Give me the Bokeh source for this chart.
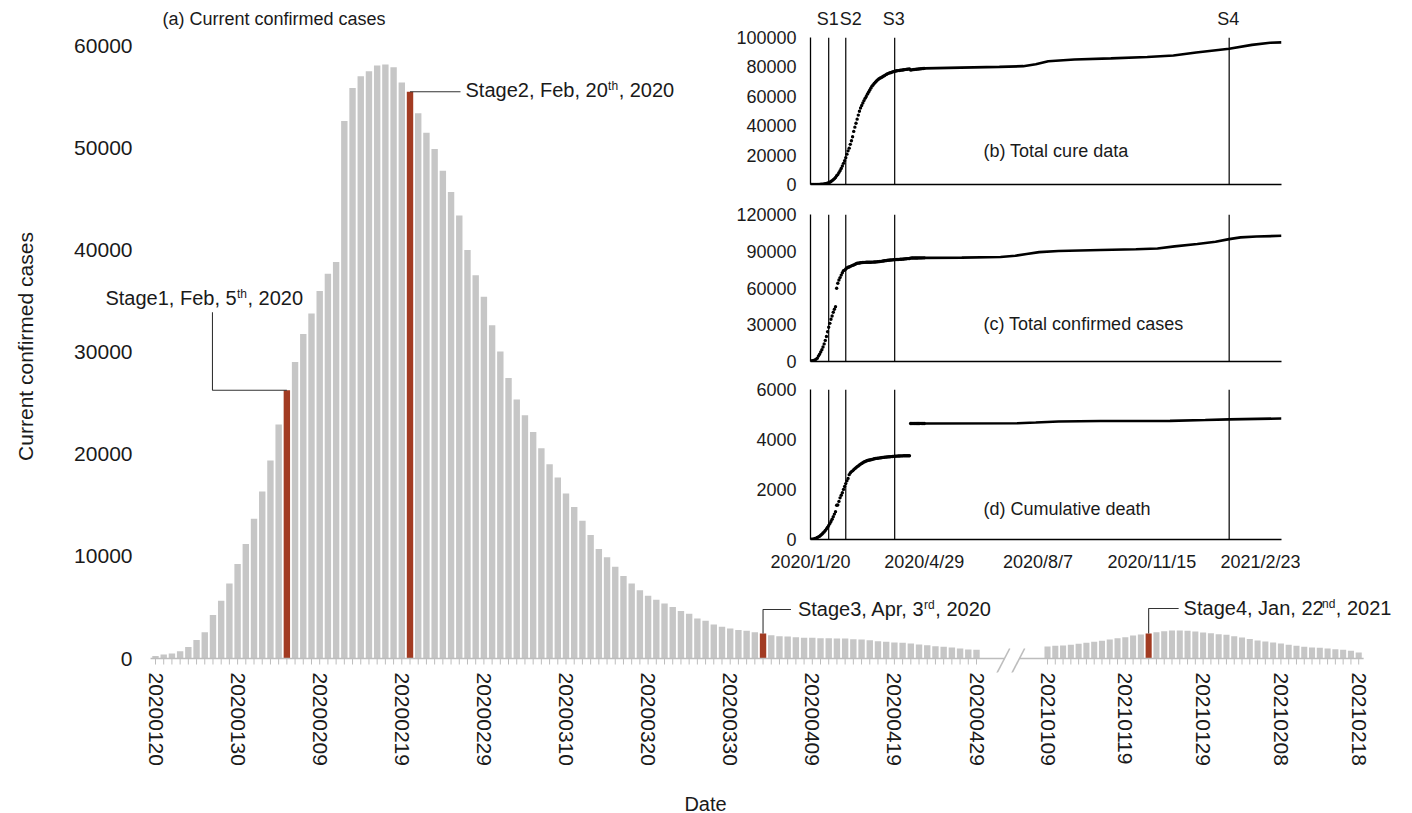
import math
import numpy as np
import pandas as pd
from bokeh.plotting import figure
from bokeh.models import (FixedTicker, Label, Range1d, Span, ColumnDataSource,
                          BasicTickFormatter)
from bokeh.embed import file_html
from bokeh.resources import INLINE

# ------------------------------------------------------------------ data
# (a) current confirmed cases, 2020-01-20 .. 2020-04-29
seg1_values = [250, 380, 480, 720, 1130, 1800, 2560, 4260, 5660, 7340,
               9240, 11200, 13680, 16340, 19390, 22900, 26250, 29020, 31760, 33780,
               35980, 37660, 38800, 52610, 55850, 56990, 57490, 58050, 58130, 57870,
               56380, 55470, 53380, 51470, 49870, 47750, 45650, 43370, 39980, 37520,
               35410, 32630, 30050, 27460, 25360, 23800, 22170, 20570, 19010, 17710,
               16150, 14820, 13490, 12080, 10710, 9900, 8990, 8070, 7330, 6670,
               6150, 5740, 5390, 5050, 4660, 4370, 3910, 3690, 3330, 3100,
               2940, 2800, 2710, 2580, 2450, 2280, 2190, 2150, 2090, 2020,
               2020, 1990, 1990, 1960, 1960, 1890, 1860, 1790, 1700, 1630,
               1570, 1530, 1470, 1370, 1300, 1210, 1140, 1080, 980, 880, 850]
# (a) current confirmed cases, 2021-01-09 .. 2021-02-18
seg2_values = [1170, 1240, 1270, 1340, 1440, 1530, 1630, 1730, 1860, 1990,
               2090, 2250, 2350, 2450, 2580, 2670, 2740, 2740, 2710, 2640,
               2540, 2480, 2380, 2320, 2190, 2050, 1920, 1760, 1660, 1570,
               1470, 1340, 1240, 1140, 1080, 1040, 980, 910, 850, 750, 590]
seg1_tick_labels = ["20200120", "20200130", "20200209", "20200219", "20200229", "20200310",
                    "20200320", "20200330", "20200409", "20200419", "20200429"]
seg2_tick_labels = ["20210109", "20210119", "20210129", "20210208", "20210218"]
y_ticks_main = [0, 10000, 20000, 30000, 40000, 50000, 60000]
stage_seg1_idx = [16, 31, 74]   # Feb 5, Feb 20, Apr 3 2020
stage_seg2_idx = [13]           # Jan 22 2021

# insets: daily values 2020-01-20 .. 2020-04-29
cure_early = [25, 28, 28, 34, 38, 49, 51, 60, 103, 124, 171, 243,
              328, 475, 632, 892, 1153, 1540, 2050, 2649, 3281, 3996, 4740, 5911, 6723, 8096,
              9419, 10844, 12552, 14376, 16155, 18264, 20659, 22888, 24734, 27323, 29745, 32495,
              36117, 39002, 41625,
              44462, 47204, 49856, 52045, 53726, 55404, 57065, 58600, 59897, 61475, 62793, 64111,
              65541, 66911, 67749, 68679, 69601, 70420, 71150, 71740, 72244, 72703, 73159, 73650,
              74051, 74588, 74971, 75448, 75770, 76052, 76238,
              76610, 76800, 77000, 77180, 77350, 77480, 77600, 77710, 77820, 77930, 78040, 78160,
              78280, 78400, 78520, 78640, 77900, 78010, 78120, 78220, 78320, 78410, 78500, 78590,
              78680, 78770, 78850, 78930, 79000]
confirmed_early = [291, 440, 571, 830, 1287, 1975, 2744, 4515, 5974, 7711, 9692, 11791,
                   14380, 17205, 20438, 24324, 28018, 31161, 34546, 37198, 40171, 42638, 44653,
                   59804, 63851, 66492, 68500, 70548, 72436, 74185, 74576, 75465, 76288, 76936,
                   77150, 77658, 78064, 78497, 78824, 79251, 79824,
                   80170, 80300, 80420, 80570, 80720, 80830, 80880, 80930, 80960, 80990, 81020,
                   81050, 81080, 81120, 81160, 81210, 81260, 81330, 81420, 81520, 81640, 81760,
                   81920, 82050, 82190, 82330, 82480, 82600, 82700, 82810, 82900,
                   82990, 83070, 83130, 83190, 83250, 83300, 83360, 83420, 83490, 83560, 83640,
                   83760, 83890, 83950, 84010, 84060, 84400, 84430, 84460, 84480, 84500, 84520,
                   84540, 84560, 84570, 84580, 84590, 84600, 84610]
death_early = [6, 9, 17, 25, 41, 56, 80, 106, 132, 170, 213, 259,
               304, 361, 425, 491, 564, 637, 723, 812, 909, 1017, 1114, 1368, 1381, 1524, 1666,
               1771, 1869, 2005, 2119, 2237, 2346, 2444, 2594, 2665, 2717, 2746, 2790, 2837, 2872,
               2914, 2945, 2983, 3014, 3044, 3072, 3099, 3121, 3138, 3160, 3171, 3178, 3191, 3201,
               3215, 3228, 3239, 3247, 3250, 3257, 3264, 3273, 3281, 3285, 3292, 3297, 3300, 3305,
               3309, 3310, 3317,
               3323, 3327, 3331, 3335, 3337, 3339, 3342, 3344, 3345, 3346, 3348, 3349, 3350, 3352,
               3352, 3352, 4642, 4642, 4642, 4642, 4642, 4642, 4642, 4643, 4643, 4643, 4643, 4643,
               4643]
early_start = "2020-01-20"

# insets: later values (sampled dates)
cure_late_dates = ["2020-04-29", "2020-05-31", "2020-07-04", "2020-07-25", "2020-08-05",
                   "2020-08-16", "2020-09-08", "2020-10-10", "2020-11-11", "2020-12-04",
                   "2020-12-24", "2021-01-22", "2021-02-11", "2021-02-27", "2021-03-09"]
cure_late = [79000, 79500, 80000, 80500, 81800, 83800, 85000, 85800, 86700, 87800,
             89800, 92300, 95000, 96400, 96700]
confirmed_late_dates = ["2020-04-29", "2020-06-01", "2020-07-05", "2020-07-18", "2020-07-28",
                        "2020-08-08", "2020-08-25", "2020-10-01", "2020-11-01", "2020-11-20",
                        "2020-12-05", "2020-12-25", "2021-01-10", "2021-01-22", "2021-02-01",
                        "2021-02-15", "2021-03-09"]
confirmed_late = [84610, 84800, 85300, 86300, 87800, 89300, 90200, 91000, 91600, 92300,
                  94000, 95900, 97700, 99900, 101300, 102000, 102600]
death_late_dates = ["2020-04-29", "2020-07-20", "2020-08-05", "2020-08-25", "2020-10-01",
                    "2020-12-01", "2021-01-01", "2021-01-22", "2021-03-09"]
death_late = [4643, 4650, 4680, 4720, 4740, 4745, 4780, 4805, 4840]

inset_tick_labels = ["2020/1/20", "2020/4/29", "2020/8/7", "2020/11/15", "2021/2/23"]
stage_dates = ["2020-02-05", "2020-02-20", "2020-04-03", "2021-01-22"]
stage_names = ["S1", "S2", "S3", "S4"]
inset_end = "2021-03-09"

# ------------------------------------------------------------------ style / layout
FONT = "Liberation Sans"
TXT = "#1a1a1a"
GRAY = "#c6c6c6"
RED = "#a23b22"
AXGRAY = "#bdbdbd"
SEG2_START = 108.65
SEG2_STEP = 0.9476
BAR_W = 0.78
PX_PER_DAY = 8.21
PX_PER_CASE = 613 / 60000.0

AW = {' ': .278, ',': .278, '.': .278, '/': .278, '(': .333, ')': .333, 'S': .667, 'F': .611,
      'A': .667, 'J': .5, 't': .278, 'r': .333, 'l': .222, 'i': .222, 'c': .5, 's': .5, 'h': .556}


def tw(s, size):
    return sum(AW.get(ch, .556) for ch in s) * size


def abs_pos(left, top):
    return {"position": "absolute", "left": f"{left}px", "top": f"{top}px"}


def bare(f):
    f.background_fill_color = None
    f.border_fill_color = None
    f.outline_line_color = None
    f.xgrid.grid_line_color = None
    f.ygrid.grid_line_color = None


# ------------------------------------------------------------------ main figure
x1 = [float(i) for i in range(len(seg1_values))]
x2 = [round(SEG2_START + SEG2_STEP * j, 4) for j in range(len(seg2_values))]
colors = [GRAY] * (len(x1) + len(x2))
for i in stage_seg1_idx:
    colors[i] = RED
for j in stage_seg2_idx:
    colors[len(x1) + j] = RED
src = ColumnDataSource(dict(x=x1 + x2, top=seg1_values + seg2_values,
                            w=[BAR_W] * len(x1) + [BAR_W * SEG2_STEP] * len(x2), c=colors))

# frame: x 10..1400 px, y 5..672 px (baseline at 658)
p = figure(width=1412, height=813, output_backend="svg", toolbar_location=None,
           x_range=Range1d(-145 / PX_PER_DAY, 1245 / PX_PER_DAY),
           y_range=Range1d(-14 / PX_PER_CASE, 653 / PX_PER_CASE),
           min_border_left=10, min_border_right=12, min_border_top=5, min_border_bottom=141,
           styles=abs_pos(0, 0))
bare(p)
p.vbar(x='x', top='top', width='w', bottom=0, fill_color='c', line_color=None, source=src)

yax = p.yaxis[0]
yax.ticker = FixedTicker(ticks=y_ticks_main)
yax.formatter = BasicTickFormatter(use_scientific=False)
yax.axis_line_color = None
yax.major_tick_out = 0
yax.major_tick_in = 0
yax.minor_tick_out = 0
yax.minor_tick_in = 0
yax.major_label_standoff = -122
yax.major_label_text_font = FONT
yax.major_label_text_font_size = "21px"
yax.major_label_text_color = TXT

major_pos = [x1[k] for k in range(0, len(x1), 10)] + [x2[k] for k in range(0, len(x2), 10)]
xax = p.xaxis[0]
xax.ticker = FixedTicker(ticks=major_pos)
xax.major_label_overrides = {pos: lab for pos, lab in zip(major_pos, seg1_tick_labels + seg2_tick_labels)}
xax.major_label_orientation = "vertical"
xax.axis_line_color = None
xax.major_tick_out = 0
xax.major_tick_in = 0
xax.minor_tick_out = 0
xax.minor_tick_in = 0
xax.major_label_standoff = 0
xax.major_label_text_font = FONT
xax.major_label_text_font_size = "21px"
xax.major_label_text_color = TXT

# baseline with break, small ticks under every bar
c = (x1[-1] + x2[0]) / 2.0
allx = x1 + x2
p.segment(x0=[allx[0] - 0.6, c + 0.91], y0=[0, 0], x1=[c - 0.91, allx[-1] + 0.6], y1=[0, 0],
          line_color=AXGRAY, line_width=1.5)
tick_len = 6 / PX_PER_CASE
p.segment(x0=allx, y0=[0] * len(allx), x1=allx, y1=[-tick_len] * len(allx),
          line_color=AXGRAY, line_width=1)
brk_x = [c - 0.91, c + 0.91]
p.segment(x0=[b - 0.95 for b in brk_x], y0=[-15 / PX_PER_CASE] * 2,
          x1=[b + 0.63 for b in brk_x], y1=[10 / PX_PER_CASE] * 2,
          line_color=AXGRAY, line_width=1.6)

# texts
p.add_layout(Label(x=7 / PX_PER_DAY, y=640 / PX_PER_CASE, text="(a) Current confirmed cases",
                   text_font=FONT, text_font_size="18px", text_color=TXT,
                   text_align="left", text_baseline="middle"))
p.add_layout(Label(x=-130 / PX_PER_DAY, y=312 / PX_PER_CASE, text="Current confirmed cases",
                   angle=math.pi / 2, text_font=FONT, text_font_size="21px", text_color=TXT,
                   text_align="center", text_baseline="middle"))


def stage_text(x, y, dx, dy, pre, sup, post, adj=0.0):
    common = dict(x=x, y=y, text_font=FONT, text_color=TXT, text_baseline="middle",
                  text_align="left")
    p.add_layout(Label(text=pre, x_offset=dx, y_offset=dy, text_font_size="20px", **common))
    w1 = tw(pre, 20) + adj
    p.add_layout(Label(text=sup, x_offset=dx + w1 + 0.3, y_offset=dy + 4, text_font_size="12px", **common))
    w2 = tw(sup, 12)
    p.add_layout(Label(text=post, x_offset=dx + w1 + w2 + 0.8, y_offset=dy, text_font_size="20px", **common))


LEAD = dict(line_color="#333333", line_width=1.1)
# Stage1
xs, v = x1[stage_seg1_idx[0]], seg1_values[stage_seg1_idx[0]]
ex, ty = xs - 9.06, v + 78 / PX_PER_CASE
p.line([xs, ex, ex], [v, v, ty], **LEAD)
stage_text(ex, ty, -107, 14, "Stage1, Feb, 5", "th", ", 2020")
# Stage2
xs, v = x1[stage_seg1_idx[1]], seg1_values[stage_seg1_idx[1]]
ex = xs + 6.15
p.line([xs, ex], [v, v], **LEAD)
stage_text(ex, v, 5, 2, "Stage2, Feb, 20", "th", ", 2020")
# Stage3
xs, v = x1[stage_seg1_idx[2]], seg1_values[stage_seg1_idx[2]]
ty, ex = v + 24 / PX_PER_CASE, xs + 3.4
p.line([xs, xs, ex], [v, ty, ty], **LEAD)
stage_text(ex, ty, 7, 0, "Stage3, Apr, 3", "rd", ", 2020", adj=-2.0)
# Stage4
xs, v = x2[stage_seg2_idx[0]], seg2_values[stage_seg2_idx[0]]
ty, ex = v + 25 / PX_PER_CASE, xs + 3.65
p.line([xs, xs, ex], [v, ty, ty], **LEAD)
stage_text(ex, ty, 5, 0, "Stage4, Jan, 22", "nd", ", 2021", adj=-2.0)

# x-axis title in its own small strip (centred at x=705, y=803)
fdate = figure(width=120, height=30, output_backend="svg", toolbar_location=None,
               x_range=Range1d(0, 1), y_range=Range1d(0, 1), x_axis_location=None,
               y_axis_location=None, min_border_left=0, min_border_right=0, min_border_top=0,
               min_border_bottom=0, styles=abs_pos(645, 788))
bare(fdate)
fdate.add_layout(Label(x=0.5, y=0.5, text="Date", text_font=FONT, text_font_size="20px",
                       text_color=TXT, text_align="center", text_baseline="middle"))

# ------------------------------------------------------------------ insets
base = pd.Timestamp(early_start)


def days(ds):
    return [(pd.Timestamp(d) - base).days for d in ds]


early_x = list(range(len(cure_early)))
x_end = days([inset_end])[0]
tick_days = [0, 100, 200, 300, 400]
stage_x = days(stage_dates)
inset_xr = Range1d(0, x_end)


def inset(top, height, btop, bbot, ymax, yticks, early, late_d, late_v, title, title_xy, show_x):
    f = figure(width=600, height=height, output_backend="svg", toolbar_location=None,
               x_range=inset_xr, y_range=Range1d(0, ymax),
               min_border_left=110, min_border_right=19, min_border_top=btop, min_border_bottom=bbot,
               styles=abs_pos(700, top))
    bare(f)
    ya = f.yaxis[0]
    ya.ticker = FixedTicker(ticks=yticks)
    ya.formatter = BasicTickFormatter(use_scientific=False)
    ya.axis_line_color = "black"
    ya.axis_line_width = 1.3
    ya.major_tick_out = 0
    ya.major_tick_in = 0
    ya.minor_tick_out = 0
    ya.minor_tick_in = 0
    ya.major_label_standoff = 14
    ya.major_label_text_font = FONT
    ya.major_label_text_font_size = "18px"
    ya.major_label_text_color = TXT
    xa = f.xaxis[0]
    xa.axis_line_color = "black"
    xa.axis_line_width = 1.3
    xa.major_tick_out = 0
    xa.major_tick_in = 0
    xa.minor_tick_out = 0
    xa.minor_tick_in = 0
    xa.major_label_text_font = FONT
    xa.major_label_text_color = TXT
    xa.major_label_text_font_size = "18px"
    if show_x:
        xa.ticker = FixedTicker(ticks=tick_days)
        xa.major_label_overrides = {d: lab for d, lab in zip(tick_days, inset_tick_labels)}
        xa.major_label_standoff = 12
    else:
        xa.ticker = FixedTicker(ticks=[])
        xa.major_label_standoff = 0
    for sx in stage_x:
        f.add_layout(Span(location=sx, dimension="height", line_color="black", line_width=1.2))
    f.scatter(early_x, early, size=3.4, marker="circle", fill_color="black", line_color=None)
    f.line(days(late_d), late_v, line_width=2.6, line_color="black")
    f.add_layout(Label(x=title_xy[0], y=title_xy[1], text=title, text_font=FONT,
                       text_font_size="18px", text_color=TXT, text_align="left",
                       text_baseline="middle"))
    return f


# frames: (b) 37..184, (c) 214..361, (d) 389..539  (page pixels)
fb = inset(0, 196, 37, 12, 100000, [0, 20000, 40000, 60000, 80000, 100000],
           cure_early, cure_late_dates, cure_late, "(b) Total cure data", (152, 23000), False)
fc = inset(190, 183, 24, 12, 120000, [0, 30000, 60000, 90000, 120000],
           confirmed_early, confirmed_late_dates, confirmed_late, "(c) Total confirmed cases",
           (152, 31000), False)
fd = inset(367, 212, 22, 40, 6000, [0, 2000, 4000, 6000],
           death_early, death_late_dates, death_late, "(d) Cumulative death", (152, 1230), True)

# strip with the stage names above panel (b)
fs = figure(width=600, height=30, output_backend="svg", toolbar_location=None,
            x_range=inset_xr, y_range=Range1d(0, 1), x_axis_location=None, y_axis_location=None,
            min_border_left=110, min_border_right=19, min_border_top=0, min_border_bottom=0,
            styles=abs_pos(700, 3))
bare(fs)
for sx, nm, off in zip(stage_x, stage_names, [-1, 5, -1, -1]):
    fs.add_layout(Label(x=sx, y=0.5, x_offset=off, text=nm, text_font=FONT,
                        text_font_size="18px", text_color=TXT, text_align="center",
                        text_baseline="middle"))

open("out.html", "w").write(file_html([p, fb, fc, fd, fs, fdate], INLINE))
